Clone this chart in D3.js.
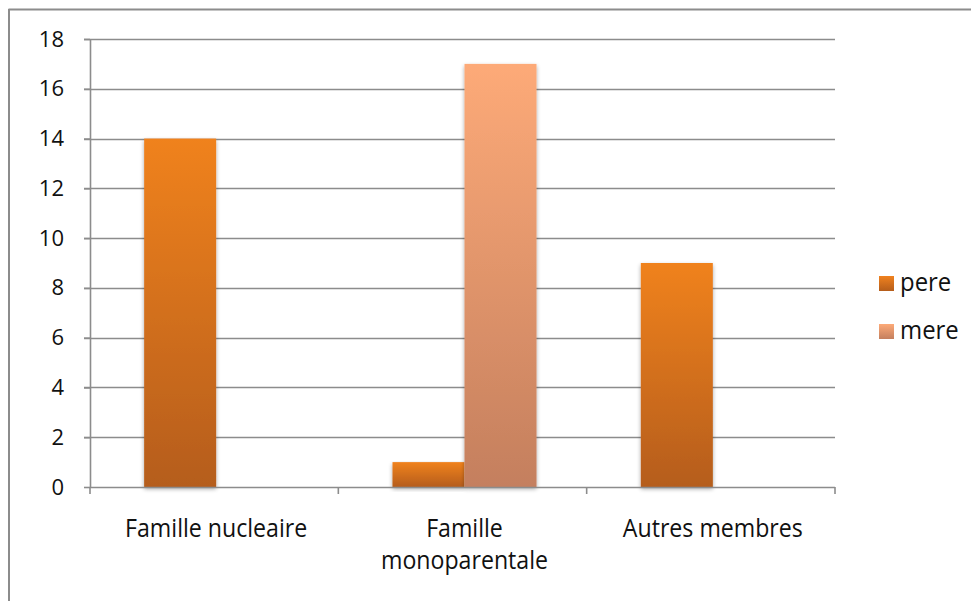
<!DOCTYPE html>
<html>
<head>
<meta charset="utf-8">
<script src="https://cdn.jsdelivr.net/npm/d3@7"></script>
<style>
  html, body { margin: 0; padding: 0; background: #fff; }
  svg { display: block; }
  text { font-family: "Open Sans", "Liberation Sans", sans-serif; fill: #111; }
</style>
</head>
<body>
<svg id="chart" width="971" height="601"></svg>
<script>
// Data
const categories = [["Famille nucleaire"], ["Famille", "monoparentale"], ["Autres membres"]];
const categoryKeys = ["Famille nucleaire", "Famille monoparentale", "Autres membres"];
const seriesNames = ["pere", "mere"];
const pereValues = [14, 1, 9];
const mereValues = [0, 17, 0];
const yTicks = [0, 2, 4, 6, 8, 10, 12, 14, 16, 18];

const svg = d3.select("#chart");
const margin = { left: 90, right: 136, top: 39, bottom: 114 };
const W = 971, H = 601;
const plotW = W - margin.left - margin.right;
const plotH = H - margin.top - margin.bottom;

// Outer frame (only top and left edges fall inside the view)
svg.append("line").attr("x1", 8.5).attr("x2", W).attr("y1", 9.5).attr("y2", 9.5)
  .attr("stroke", "#8c8c8c").attr("stroke-width", 2);
svg.append("line").attr("x1", 9).attr("x2", 9).attr("y1", 9).attr("y2", H)
  .attr("stroke", "#8c8c8c").attr("stroke-width", 2);

const defs = svg.append("defs");
const gradPere = defs.append("linearGradient").attr("id", "gPere")
  .attr("x1", 0).attr("y1", 0).attr("x2", 0).attr("y2", 1);
gradPere.append("stop").attr("offset", "0%").attr("stop-color", "#f0821f");
gradPere.append("stop").attr("offset", "100%").attr("stop-color", "#b55d1b");
const gradMere = defs.append("linearGradient").attr("id", "gMere")
  .attr("x1", 0).attr("y1", 0).attr("x2", 0).attr("y2", 1);
gradMere.append("stop").attr("offset", "0%").attr("stop-color", "#fdaa78");
gradMere.append("stop").attr("offset", "100%").attr("stop-color", "#c47f5e");

const shadow = defs.append("filter").attr("id", "shadow")
  .attr("x", "-20%").attr("y", "-10%").attr("width", "140%").attr("height", "130%");
shadow.append("feGaussianBlur").attr("in", "SourceAlpha").attr("stdDeviation", 2.2).attr("result", "blur");
shadow.append("feOffset").attr("in", "blur").attr("dy", 2).attr("result", "off");
shadow.append("feComponentTransfer").attr("in", "off").attr("result", "soft")
  .append("feFuncA").attr("type", "linear").attr("slope", 0.35);
const merge = shadow.append("feMerge");
merge.append("feMergeNode").attr("in", "soft");
merge.append("feMergeNode").attr("in", "SourceGraphic");

const g = svg.append("g").attr("transform", `translate(${margin.left},${margin.top})`);

const y = d3.scaleLinear().domain([0, 18]).range([plotH, 0]);
const x0 = d3.scaleBand().domain(categoryKeys).range([0, plotW]).paddingInner(0.42).paddingOuter(0.21);
const x1 = d3.scaleBand().domain(seriesNames).range([0, x0.bandwidth()]);

// Gridlines
g.append("g").selectAll("line").data(yTicks.filter(d => d > 0)).join("line")
  .attr("x1", -6).attr("x2", plotW)
  .attr("y1", d => Math.round(y(d)) + 0.5).attr("y2", d => Math.round(y(d)) + 0.5)
  .attr("stroke", "#8c8c8c").attr("stroke-width", 1.6);

// Y axis
const yAxis = g.append("g").call(d3.axisLeft(y).tickValues(yTicks).tickSize(6).tickPadding(20).tickSizeOuter(0));
yAxis.attr("font-size", null).attr("font-family", null);
yAxis.select(".domain").attr("stroke", "#8c8c8c").attr("stroke-width", 1.6);
yAxis.selectAll(".tick line").attr("stroke", "#8c8c8c").attr("stroke-width", 1.6);
yAxis.selectAll(".tick text")
  .style("font-size", "22px").style("font-family", "'Open Sans', sans-serif").attr("fill", "#111");

// Bars
const rows = categoryKeys.map((k, i) => ({ key: k, pere: pereValues[i], mere: mereValues[i] }));
const groups = g.append("g").selectAll("g").data(rows).join("g")
  .attr("transform", d => `translate(${x0(d.key) + 2},0)`);
groups.selectAll("rect")
  .data(d => seriesNames.map(s => ({ s, v: d[s] })).filter(e => e.v > 0))
  .join("rect")
  .attr("x", d => x1(d.s))
  .attr("width", x1.bandwidth())
  .attr("y", d => y(d.v))
  .attr("height", d => plotH - y(d.v))
  .attr("fill", d => d.s === "pere" ? "url(#gPere)" : "url(#gMere)")
  .attr("filter", "url(#shadow)");

// X axis
const xAxisG = g.append("g").attr("transform", `translate(0,${plotH})`);
xAxisG.append("line").attr("x1", 0).attr("x2", plotW).attr("y1", 0.5).attr("y2", 0.5)
  .attr("stroke", "#8c8c8c").attr("stroke-width", 1.6);
const boundaries = [0, ...categoryKeys.map(k => x0(k) + x0.bandwidth() + x0.step() * x0.paddingInner() / 2)];
boundaries[boundaries.length - 1] = plotW;
xAxisG.selectAll("line.tick").data(boundaries).join("line").attr("class", "tick")
  .attr("x1", d => d).attr("x2", d => d).attr("y1", 0).attr("y2", 7)
  .attr("stroke", "#8c8c8c").attr("stroke-width", 1.6);

// Category labels, set in a condensed style
categoryKeys.forEach((k, i) => {
  const cx = x0(k) + x0.bandwidth() / 2 + 2;
  const t = xAxisG.append("text").attr("text-anchor", "middle")
    .attr("transform", `translate(${cx},0) scale(0.89,1)`)
    .style("font-size", "26px").style("font-family", "'Open Sans', sans-serif");
  categories[i].forEach((line, j) => {
    t.append("tspan").attr("x", 0).attr("y", 50 + j * 32).text(line);
  });
});

// Legend
const legend = svg.append("g").attr("transform", "translate(879,283)");
seriesNames.forEach((s, i) => {
  const row = legend.append("g").attr("transform", `translate(0,${i * 48})`);
  row.append("rect").attr("x", 0).attr("y", -7).attr("width", 15).attr("height", 15)
    .attr("fill", s === "pere" ? "url(#gPere)" : "url(#gMere)");
  row.append("text").attr("transform", "translate(21,8) scale(0.92,1)")
    .style("font-size", "26px").style("font-family", "'Open Sans', sans-serif").text(s);
});
</script>
</body>
</html>
